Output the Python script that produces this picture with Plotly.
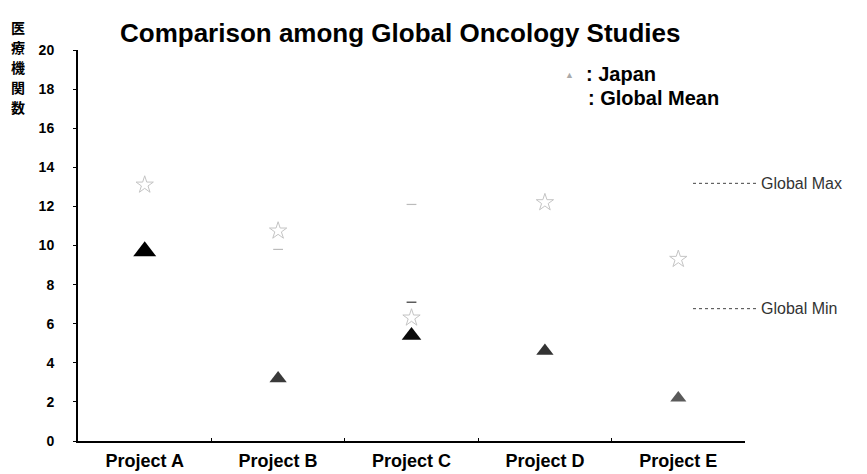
import plotly.graph_objects as go

# Study data
projects = ["Project A", "Project B", "Project C", "Project D", "Project E"]
japan = [9.7, 3.2, 5.4, 4.6, 2.2]
global_mean = [13.1, 10.75, 6.3, 12.2, 9.3]
global_max = [None, None, 12.1, None, None]
global_min = [None, 9.8, 7.1, None, None]
y_ticks = [0, 2, 4, 6, 8, 10, 12, 14, 16, 18, 20]
y_title = "医療機関数"

FONT = "Arial, 'Liberation Sans', sans-serif"

fig = go.Figure()

# Global mean markers (faint grey)
fig.add_trace(go.Scatter(
    x=projects, y=global_mean, mode="markers",
    marker=dict(symbol="star-open", size=13, color="#c4c4c4", opacity=1,
                line=dict(width=1, color="#c4c4c4")),
    showlegend=False, hoverinfo="y"))

# Global max / min ticks
for vals, cols in ((global_max, "#bbbbbb"),
                   (global_min, ["#bbbbbb", "#bbbbbb", "#333333", "#bbbbbb", "#bbbbbb"])):
    fig.add_trace(go.Scatter(
        x=projects, y=vals, mode="markers",
        marker=dict(symbol="line-ew", size=7, opacity=1,
                    line=dict(width=1.2, color=cols)),
        showlegend=False, hoverinfo="y"))

# Japan markers
fig.add_trace(go.Scatter(
    x=projects, y=japan, mode="markers",
    marker=dict(symbol="triangle-up", size=[20, 15, 17, 15, 14], opacity=1,
                color=["#000000", "#3a3a3a", "#0a0a0a", "#333333", "#5a5a5a"],
                line=dict(width=0)),
    showlegend=False, hoverinfo="y"))

fig.update_layout(
    width=867, height=474,
    margin=dict(l=78, r=122, t=50, b=33),
    plot_bgcolor="white", paper_bgcolor="white",
    font=dict(family=FONT, color="black"),
    xaxis=dict(
        range=[-0.5, 4.5], showline=True, linecolor="black", linewidth=2,
        ticks="inside", tickson="boundaries", ticklen=3, tickcolor="black",
        showgrid=False, zeroline=False, automargin=False,
        ticklabelstandoff=2,
        tickfont=dict(size=18, family=FONT, color="black", weight="bold"),
    ),
    yaxis=dict(
        range=[0, 20], tickvals=y_ticks, ticktext=[str(v) for v in y_ticks],
        showline=True, linecolor="black", linewidth=2,
        ticks="outside", ticklen=3, tickcolor="black",
        ticklabelstandoff=16, automargin=False,
        showgrid=False, zeroline=False,
        tickfont=dict(size=14, family=FONT, color="black", weight="bold"),
    ),
)

# Title
fig.add_annotation(
    text="<b>Comparison among Global Oncology Studies</b>",
    xref="paper", yref="paper", x=(400 - 78) / 667, y=1.0, yshift=17,
    xanchor="center", yanchor="middle", showarrow=False,
    font=dict(size=26, family=FONT, color="black"))

# Vertical y-axis title, one character per line
for i, ch in enumerate(y_title):
    fig.add_annotation(
        text=ch, xref="paper", yref="paper", x=0, xshift=-60,
        y=1.0, yshift=50 - (27 + 20 * i),
        xanchor="center", yanchor="middle", showarrow=False,
        font=dict(size=14, family="'Noto Sans CJK JP'", color="black", weight="bold"))

# Legend: Japan / Global Mean
fig.add_annotation(
    text="▲", xref="paper", yref="paper", x=(569 - 78) / 667, y=(440 - 75) / 390,
    xanchor="center", yanchor="middle", showarrow=False,
    font=dict(size=9, family=FONT, color="#aaaaaa"))
fig.add_annotation(
    text="<b>: Japan</b>", xref="paper", yref="paper",
    x=(584 - 78) / 667, y=(440 - 74) / 390,
    xanchor="left", yanchor="middle", showarrow=False,
    font=dict(size=20, family=FONT, color="black"))
fig.add_annotation(
    text="<b>: Global Mean</b>", xref="paper", yref="paper",
    x=(586 - 78) / 667, y=(440 - 98) / 390,
    xanchor="left", yanchor="middle", showarrow=False,
    font=dict(size=20, family=FONT, color="black"))

# Legend: Global Max / Global Min (dotted lines outside plot)
for label, ypix in (("Global Max", 183), ("Global Min", 308)):
    yp = (440 - ypix) / 390
    fig.add_shape(type="line", xref="paper", yref="paper",
                  x0=(693 - 78) / 667, x1=(757 - 78) / 667, y0=yp, y1=yp,
                  line=dict(color="#444444", width=1, dash="dot"))
    fig.add_annotation(
        text=label, xref="paper", yref="paper", x=(759 - 78) / 667, y=yp,
        xanchor="left", yanchor="middle", showarrow=False,
        font=dict(size=16, family=FONT, color="#333333"))

fig.write_html("out.html")
